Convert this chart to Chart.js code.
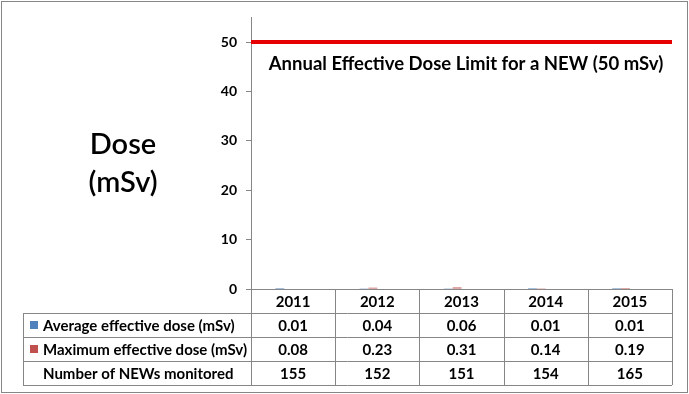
<!DOCTYPE html>
<html>
<head>
<meta charset="utf-8">
<script src="https://cdn.jsdelivr.net/npm/chart.js@4"></script>
<style>
	html, body { margin: 0; padding: 0; background: #fff; }
	#wrap { position: relative; width: 689px; height: 394px; }
</style>
</head>
<body>
<div id="wrap"><canvas id="dose"></canvas></div>
<script>
const years = ["2011", "2012", "2013", "2014", "2015"];
const avgDose = [0.01, 0.04, 0.06, 0.01, 0.01];
const maxDose = [0.08, 0.23, 0.31, 0.14, 0.19];
const newsMonitored = [155, 152, 151, 154, 165];
const yTicks = [0, 10, 20, 30, 40, 50];
const doseLimit = 50;
const limitLabel = "Annual Effective Dose Limit for a NEW (50 mSv)";

const FONT = "Lato, 'Open Sans', sans-serif";
const gridGray = "#868686";

// draws the data table under the plot, the side title and the outer frame
const tablePlugin = {
	id: "dataTable",
	afterDraw(chart) {
		const ctx = chart.ctx;
		const x = chart.scales.x;
		const area = chart.chartArea;
		const rowH = 24;
		const top = area.bottom;
		const tableLeft = 23;
		const half = (x.getPixelForValue(1) - x.getPixelForValue(0)) / 2;

		ctx.save();
		ctx.strokeStyle = gridGray;
		ctx.lineWidth = 1;

		// horizontal lines
		ctx.beginPath();
		ctx.moveTo(area.left, top + 0.5);
		ctx.lineTo(area.right, top + 0.5);
		for (let r = 1; r <= 4; r++) {
			ctx.moveTo(tableLeft, top + r * rowH + 0.5);
			ctx.lineTo(area.right, top + r * rowH + 0.5);
		}
		// vertical lines
		ctx.moveTo(tableLeft + 0.5, top + rowH);
		ctx.lineTo(tableLeft + 0.5, top + 4 * rowH);
		for (let i = 0; i <= years.length; i++) {
			const cx = Math.round(x.getPixelForValue(i) - half) + 0.5;
			ctx.moveTo(cx, top);
			ctx.lineTo(cx, top + 4 * rowH);
		}
		ctx.stroke();

		ctx.fillStyle = "#000";
		ctx.font = "bold 15px " + FONT;
		ctx.textBaseline = "middle";
		ctx.textAlign = "center";
		const rows = [years, avgDose.map((v) => v.toFixed(2)), maxDose.map((v) => v.toFixed(2)), newsMonitored];
		rows.forEach((row, r) => {
			row.forEach((v, i) => {
				ctx.fillText(String(v), x.getPixelForValue(i), top + r * rowH + rowH / 2 + 1);
			});
		});

		// row headers
		ctx.textAlign = "left";
		const heads = [
			{ text: chart.data.datasets[0].label, color: chart.data.datasets[0].backgroundColor },
			{ text: chart.data.datasets[1].label, color: chart.data.datasets[1].backgroundColor },
			{ text: "Number of NEWs monitored", color: null }
		];
		heads.forEach((h, k) => {
			const cy = top + (k + 1) * rowH + rowH / 2;
			if (h.color) {
				ctx.fillStyle = h.color;
				ctx.fillRect(30, cy - 4, 8, 8);
			}
			ctx.fillStyle = "#000";
			ctx.fillText(h.text, 43, cy + 1);
		});

		// limit annotation
		const y = chart.scales.y;
		ctx.textAlign = "center";
		ctx.font = "bold 18.5px " + FONT;
		ctx.fillText(limitLabel, 466, y.getPixelForValue(doseLimit) + 22);

		// side title
		ctx.font = "600 29px " + FONT;
		ctx.fillText("Dose", 123, 145);
		ctx.fillText("(mSv)", 123, 183);

		// outer frame
		ctx.strokeStyle = gridGray;
		ctx.strokeRect(1.5, 1.5, 686, 391);
		ctx.restore();
	}
};

new Chart(document.getElementById("dose"), {
	type: "bar",
	data: {
		labels: years,
		datasets: [
			{
				label: "Average effective dose (mSv)",
				data: avgDose,
				backgroundColor: "#4F81BD",
				categoryPercentage: 0.42,
				barPercentage: 1
			},
			{
				label: "Maximum effective dose (mSv)",
				data: maxDose,
				backgroundColor: "#C0504D",
				categoryPercentage: 0.42,
				barPercentage: 1
			},
			{
				type: "line",
				label: "limit",
				xAxisID: "xLine",
				data: [{ x: 0, y: doseLimit }, { x: 1, y: doseLimit }],
				borderColor: "#E60000",
				borderWidth: 4,
				pointRadius: 0
			}
		]
	},
	options: {
		responsive: true,
		maintainAspectRatio: false,
		animation: false,
		layout: {
			padding: { left: 0, top: 16, right: 17, bottom: 105 }
		},
		plugins: {
			legend: { display: false },
			tooltip: { enabled: false }
		},
		scales: {
			x: {
				ticks: { display: false },
				grid: { display: false },
				border: { display: false },
				afterFit: (scale) => { scale.height = 0; }
			},
			xLine: {
				type: "linear",
				display: false,
				offset: false,
				min: 0,
				max: 1
			},
			y: {
				min: 0,
				max: 55,
				afterBuildTicks: (scale) => {
					scale.ticks = yTicks.map((v) => ({ value: v }));
				},
				afterFit: (scale) => { scale.width = 251; },
				ticks: {
					color: "#000",
					font: { family: FONT, size: 14, weight: "bold" },
					padding: 9
				},
				grid: {
					drawOnChartArea: false,
					color: gridGray,
					tickLength: 5
				},
				border: { color: gridGray, width: 1 }
			}
		}
	},
	plugins: [tablePlugin]
});
</script>
</body>
</html>
